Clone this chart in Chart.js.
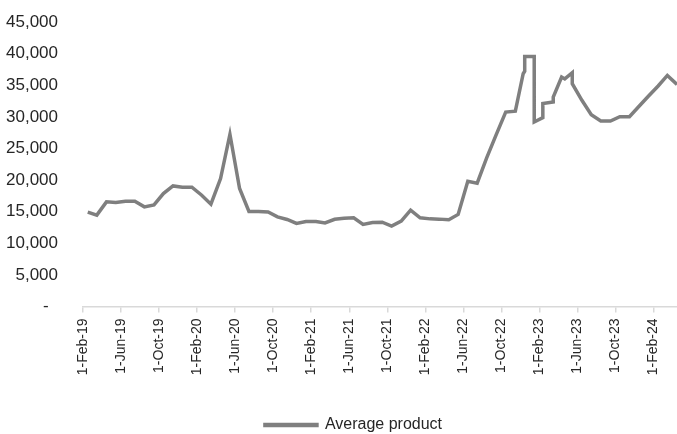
<!DOCTYPE html>
<html>
<head>
<meta charset="utf-8">
<script src="https://cdn.jsdelivr.net/npm/chart.js@4.4.1/dist/chart.umd.min.js"></script>
<style>
  html, body { margin: 0; padding: 0; background: #fff; }
  #wrap { width: 677px; height: 434px; }
</style>
</head>
<body>
<div id="wrap"><canvas id="avgChart"></canvas></div>
<script>
const obsDates = [
  "2019-02-15", "2019-03-15", "2019-04-15", "2019-05-15", "2019-06-15", "2019-07-15",
  "2019-08-15", "2019-09-15", "2019-10-15", "2019-11-15", "2019-12-15", "2020-01-15",
  "2020-02-15", "2020-03-15", "2020-04-15", "2020-05-15", "2020-06-15", "2020-07-15",
  "2020-08-15", "2020-09-15", "2020-10-15", "2020-11-15", "2020-12-15", "2021-01-15",
  "2021-02-15", "2021-03-15", "2021-04-15", "2021-05-15", "2021-06-15", "2021-07-15",
  "2021-08-15", "2021-09-15", "2021-10-15", "2021-11-15", "2021-12-15", "2022-01-15",
  "2022-02-15", "2022-03-15", "2022-04-15", "2022-05-15", "2022-06-15", "2022-07-15",
  "2022-08-15", "2022-09-15", "2022-10-15", "2022-11-15", "2022-12-10", "2022-12-15",
  "2022-12-15", "2023-01-15", "2023-01-15", "2023-02-11", "2023-02-11", "2023-03-15",
  "2023-03-15", "2023-04-11", "2023-04-21", "2023-05-15", "2023-05-15", "2023-06-15",
  "2023-07-15", "2023-08-15", "2023-09-15", "2023-10-15", "2023-11-15", "2023-12-15",
  "2024-01-15", "2024-02-15", "2024-03-15", "2024-04-15"
];
const avgProduct = [
  14920, 14450, 16550, 16450, 16660, 16660,
  15760, 16070, 17870, 19070, 18870, 18870,
  17600, 16180, 20240, 27240, 18660, 15030,
  15030, 14950, 14180, 13770, 13140, 13450,
  13450, 13230, 13800, 13950, 14020, 12980,
  13300, 13340, 12710, 13500, 15240, 14020,
  13860, 13820, 13710, 14560, 19820, 19500,
  23500, 27230, 30760, 30900, 36820, 37200,
  39550, 39550, 29180, 29870, 32090, 32340,
  33130, 36290, 36000, 36980, 35240, 32610,
  30350, 29340, 29340, 30030, 30030, 31630,
  33260, 34880, 36550, 35130
];
const xTickLabels = [
  "1-Feb-19", "1-Jun-19", "1-Oct-19", "1-Feb-20", "1-Jun-20", "1-Oct-20",
  "1-Feb-21", "1-Jun-21", "1-Oct-21", "1-Feb-22", "1-Jun-22", "1-Oct-22",
  "1-Feb-23", "1-Jun-23", "1-Oct-23", "1-Feb-24"
];

// months since 1-Feb-19 (fractional)
function toMonths(s) {
  const [y, m, d] = s.split("-").map(Number);
  const dim = new Date(y, m, 0).getDate();
  return (y - 2019) * 12 + (m - 2) + (d - 1) / dim;
}

const FONT = "'Liberation Sans Narrow', 'Arial Narrow', 'Liberation Sans', sans-serif";
const points = obsDates.map((d, i) => ({ x: toMonths(d), y: avgProduct[i] }));

// the original legend sits a little right of centre
const legendNudge = {
  id: "legendNudge",
  afterLayout(chart) {
    if (chart.legend) chart.legend.left += 30;
  },
};

new Chart(document.getElementById("avgChart"), {
  type: "line",
  data: {
    datasets: [
      {
        label: "Average product",
        data: points,
        borderColor: "#7f7f7f",
        backgroundColor: "#7f7f7f",
        borderWidth: 3.5,
        borderJoinStyle: "miter",
        pointRadius: 0,
        tension: 0,
        fill: false,
      },
    ],
  },
  plugins: [legendNudge],
  options: {
    responsive: true,
    maintainAspectRatio: false,
    animation: false,
    layout: { padding: { top: 22, right: 0, left: 0, bottom: -9 } },
    plugins: {
      tooltip: { enabled: false },
      legend: {
        position: "bottom",
        labels: {
          boxWidth: 52,
          boxHeight: 1,
          padding: 4,
          color: "#262626",
          font: { family: FONT, size: 16 },
        },
      },
    },
    scales: {
      x: {
        type: "linear",
        min: 0,
        max: toMonths(obsDates[obsDates.length - 1]),
        border: { display: true, color: "#d9d9d9", width: 1.5 },
        grid: { drawOnChartArea: false, drawTicks: true, tickLength: 6, color: "#d9d9d9", lineWidth: 1.5 },
        afterBuildTicks: (axis) => {
          axis.ticks = axis.ticks.filter((t) => t.value % 4 === 0 && t.value / 4 < xTickLabels.length);
        },
        afterFit: (axis) => { axis.height = 106.5; },
        ticks: {
          stepSize: 4,
          autoSkip: false,
          minRotation: 90,
          maxRotation: 90,
          padding: 6,
          color: "#262626",
          font: { family: FONT, size: 14 },
          callback: (v) => xTickLabels[v / 4],
        },
      },
      y: {
        min: 0,
        max: 45000,
        border: { display: false },
        // invisible tick marks give the gap between labels and plot
        grid: { display: true, drawOnChartArea: false, drawTicks: true, tickLength: 22, color: "rgba(0,0,0,0)" },
        afterFit: (axis) => { axis.width = 83; },
        ticks: {
          stepSize: 5000,
          padding: 3,
          color: "#262626",
          font: { family: FONT, size: 17 },
          callback: (v) => (v === 0 ? "-  " : v.toLocaleString("en-US")),
        },
      },
    },
  },
});
</script>
</body>
</html>
